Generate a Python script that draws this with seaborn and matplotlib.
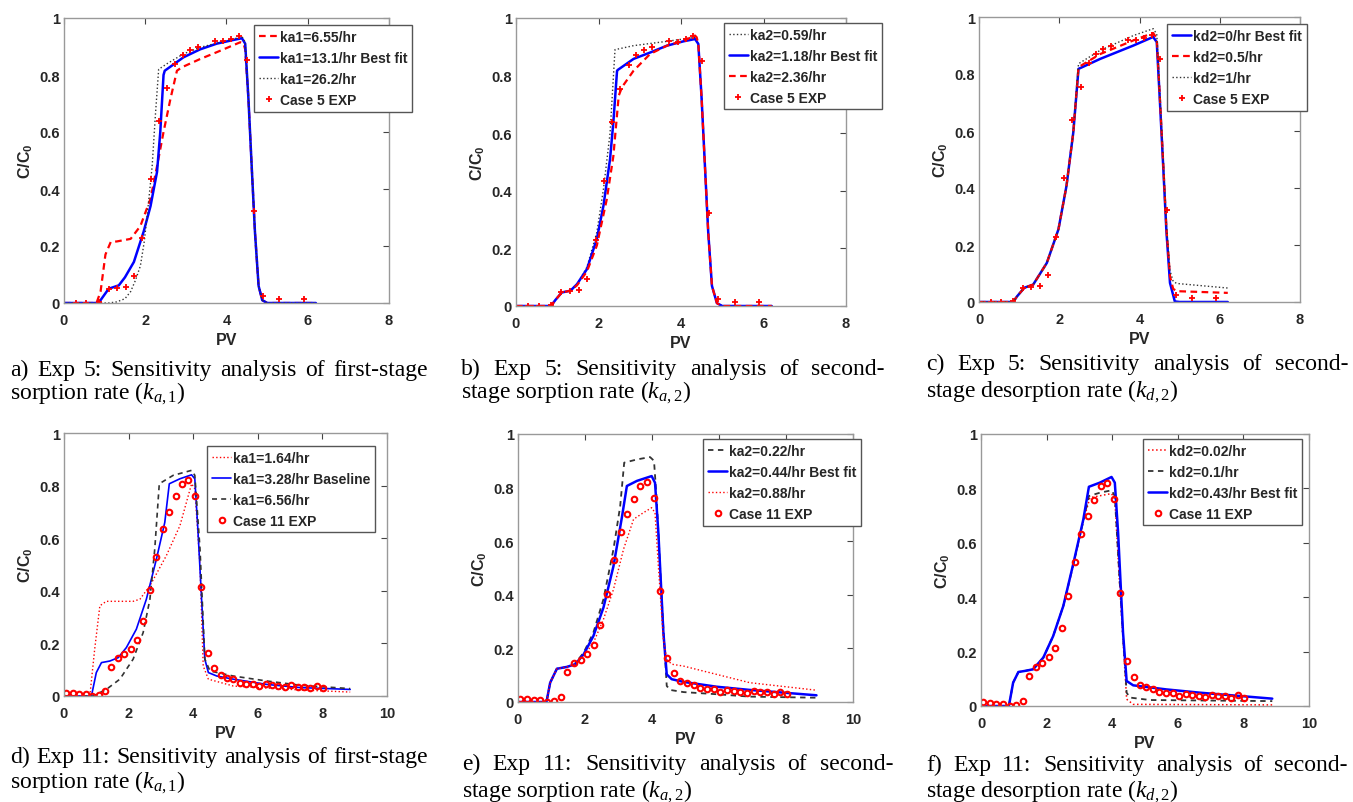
import matplotlib
matplotlib.use("Agg")
import matplotlib.pyplot as plt
import seaborn as sns

sns.set_style("white")
plt.rcParams["font.family"] = ["Liberation Sans", "DejaVu Sans"]
plt.rcParams["font.weight"] = "bold"
plt.rcParams["mathtext.fontset"] = "custom"
plt.rcParams["mathtext.it"] = "Liberation Serif:style=italic:weight=normal"
plt.rcParams["mathtext.rm"] = "Liberation Serif:weight=normal"
plt.rcParams["mathtext.bf"] = "Liberation Sans:bold"

W, H = 1353, 803

# ---------- experimental points ----------
exp5_x = [0.3, 0.55, 0.85, 1.1, 1.3, 1.52, 1.72, 1.93, 2.13, 2.33, 2.53, 2.73, 2.92, 3.1,
          3.3, 3.72, 3.92, 4.12, 4.3, 4.5, 4.68, 4.9, 5.3, 5.9]
exp5_y = [0, 0, 0.005, 0.05, 0.052, 0.055, 0.095, 0.228, 0.435, 0.638, 0.753, 0.837, 0.87, 0.888,
          0.9, 0.919, 0.918, 0.927, 0.937, 0.852, 0.322, 0.025, 0.013, 0.014]

exp11_x = [0.07, 0.27, 0.47, 0.67, 0.87, 1.07, 1.27, 1.47, 1.67, 1.87, 2.06, 2.26, 2.46, 2.66,
           2.86, 3.06, 3.26, 3.46, 3.65, 3.85, 4.05, 4.25, 4.45, 4.65, 4.85, 5.04, 5.24, 5.44,
           5.64, 5.84, 6.04, 6.24, 6.44, 6.64, 6.84, 7.03, 7.23, 7.43, 7.63, 7.83, 8.02]
exp11_y = [0.013, 0.011, 0.007, 0.007, 0.0, 0.004, 0.018, 0.112, 0.144, 0.158, 0.18, 0.214, 0.286,
           0.404, 0.53, 0.634, 0.70, 0.759, 0.807, 0.82, 0.762, 0.414, 0.164, 0.108, 0.079, 0.07,
           0.064, 0.051, 0.047, 0.047, 0.037, 0.045, 0.042, 0.038, 0.034, 0.041, 0.036, 0.036,
           0.029, 0.039, 0.029]

# ---------- panel a: ka1 (Exp 5) ----------
a_655_x = [0, 0.8, 0.9, 1.02, 1.15, 1.3, 1.64, 1.88, 2.13, 2.29, 2.45, 2.62, 2.78, 2.9, 3.35,
           3.76, 4.34, 4.42, 4.46, 4.54, 4.62, 4.7, 4.79, 4.88, 5.0, 6.2]
a_655_y = [0, 0, 0.04, 0.17, 0.214, 0.216, 0.225, 0.27, 0.366, 0.48, 0.6, 0.716, 0.815, 0.827,
           0.856, 0.88, 0.915, 0.91, 0.89, 0.716, 0.48, 0.25, 0.06, 0.01, 0, 0]
a_131_x = [0, 0.85, 0.95, 1.1, 1.35, 1.5, 1.72, 1.96, 2.13, 2.29, 2.37, 2.45, 2.48, 2.94, 3.35,
           3.76, 4.17, 4.38, 4.46, 4.54, 4.62, 4.7, 4.79, 4.88, 5.0, 6.2]
a_131_y = [0, 0, 0.02, 0.05, 0.062, 0.09, 0.144, 0.25, 0.34, 0.46, 0.6, 0.8, 0.815, 0.862, 0.89,
           0.91, 0.923, 0.929, 0.91, 0.716, 0.48, 0.25, 0.06, 0.01, 0, 0]
a_262_x = [0, 1.1, 1.3, 1.5, 1.64, 1.76, 1.88, 1.97, 2.05, 2.17, 2.25, 2.33, 2.54, 2.94, 3.35,
           4.17, 4.38, 4.46, 4.54, 4.62, 4.7, 4.79, 4.88, 5.0, 6.2]
a_262_y = [0, 0, 0.004, 0.015, 0.04, 0.08, 0.13, 0.21, 0.31, 0.48, 0.66, 0.82, 0.84, 0.874, 0.897,
           0.926, 0.935, 0.915, 0.72, 0.48, 0.25, 0.06, 0.01, 0, 0]

# ---------- panel b: ka2 (Exp 5) ----------
b_059_x = [0, 0.85, 0.95, 1.11, 1.32, 1.48, 1.72, 1.96, 2.12, 2.28, 2.4, 2.85, 3.66, 4.34, 4.42,
           4.5, 4.58, 4.66, 4.75, 4.87, 5.0, 6.2]
b_059_y = [0, 0, 0.02, 0.047, 0.053, 0.076, 0.135, 0.256, 0.406, 0.6, 0.89, 0.904, 0.919, 0.933,
           0.91, 0.72, 0.487, 0.256, 0.07, 0.01, 0, 0]
b_118_x = [0, 0.85, 0.95, 1.11, 1.32, 1.48, 1.72, 1.96, 2.12, 2.28, 2.36, 2.45, 2.47, 2.85, 3.25,
           3.66, 4.06, 4.34, 4.42, 4.5, 4.58, 4.66, 4.75, 4.87, 5.0, 6.2]
b_118_y = [0, 0, 0.02, 0.047, 0.053, 0.076, 0.128, 0.233, 0.348, 0.51, 0.638, 0.817, 0.82, 0.858,
           0.88, 0.904, 0.919, 0.927, 0.91, 0.72, 0.487, 0.256, 0.07, 0.01, 0, 0]
b_236_x = [0, 0.85, 0.95, 1.11, 1.32, 1.48, 1.72, 1.96, 2.2, 2.36, 2.49, 2.57, 2.85, 3.25, 3.66,
           4.06, 4.34, 4.38, 4.42, 4.5, 4.58, 4.66, 4.75, 4.87, 5.0, 6.2]
b_236_y = [0, 0, 0.02, 0.047, 0.053, 0.072, 0.12, 0.21, 0.37, 0.52, 0.73, 0.76, 0.817, 0.875,
           0.904, 0.921, 0.939, 0.933, 0.91, 0.72, 0.487, 0.256, 0.07, 0.01, 0, 0]

# ---------- panel c: kd2 (Exp 5) ----------
c_0_x = [0, 0.85, 0.95, 1.13, 1.35, 1.69, 1.98, 2.18, 2.35, 2.48, 3.02, 3.85, 4.34, 4.43, 4.51,
         4.59, 4.67, 4.76, 4.88, 5.0, 6.2]
c_0_y = [0, 0, 0.02, 0.05, 0.061, 0.137, 0.255, 0.407, 0.595, 0.818, 0.853, 0.9, 0.93, 0.912,
         0.7, 0.478, 0.25, 0.067, 0.002, 0, 0]
c_05_x = [0, 0.85, 0.95, 1.13, 1.35, 1.69, 1.98, 2.18, 2.35, 2.48, 3.02, 3.85, 4.34, 4.43, 4.51,
          4.59, 4.67, 4.76, 4.84, 4.93, 6.2]
c_05_y = [0, 0, 0.02, 0.05, 0.061, 0.137, 0.255, 0.407, 0.595, 0.824, 0.87, 0.918, 0.944, 0.925,
          0.71, 0.49, 0.26, 0.09, 0.046, 0.038, 0.032]
c_1_x = [0, 0.85, 0.95, 1.13, 1.35, 1.69, 1.98, 2.18, 2.35, 2.48, 3.02, 3.85, 4.34, 4.43, 4.51,
         4.59, 4.67, 4.76, 4.84, 4.93, 6.2]
c_1_y = [0, 0, 0.02, 0.05, 0.061, 0.137, 0.255, 0.407, 0.595, 0.836, 0.883, 0.935, 0.959, 0.94,
         0.72, 0.5, 0.27, 0.11, 0.072, 0.065, 0.049]

# ---------- panel d: ka1 (Exp 11) ----------
d_164_x = [0, 0.8, 0.95, 1.11, 1.31, 2.14, 2.35, 2.66, 3.17, 3.59, 3.95, 4.05, 4.21, 4.31, 4.47,
           5.24, 7.31, 8.86]
d_164_y = [0, 0, 0.178, 0.343, 0.36, 0.36, 0.368, 0.419, 0.534, 0.648, 0.807, 0.788, 0.496,
           0.114, 0.064, 0.038, 0.023, 0.015]
d_328_x = [0, 0.85, 1.0, 1.16, 1.42, 1.68, 1.93, 2.24, 2.55, 2.86, 3.12, 3.26, 3.59, 3.95, 4.05,
           4.15, 4.26, 4.36, 4.47, 4.73, 5.24, 6.28, 7.31, 8.86]
d_328_y = [0, 0, 0.089, 0.127, 0.133, 0.146, 0.184, 0.254, 0.368, 0.52, 0.66, 0.807, 0.826,
           0.841, 0.826, 0.623, 0.368, 0.14, 0.089, 0.076, 0.064, 0.044, 0.032, 0.025]
d_656_x = [0, 0.9, 1.31, 1.73, 2.14, 2.45, 2.66, 2.81, 2.95, 3.38, 3.95, 4.05, 4.21, 4.36, 4.52,
           5.24, 6.28, 7.31, 8.86]
d_656_y = [0, 0, 0.025, 0.064, 0.14, 0.241, 0.368, 0.559, 0.807, 0.839, 0.858, 0.839, 0.56,
           0.14, 0.095, 0.076, 0.057, 0.041, 0.028]

# ---------- panel e: ka2 (Exp 11) ----------
e_022_x = [0, 0.85, 0.96, 1.16, 1.46, 1.66, 1.96, 2.25, 2.55, 2.85, 3.05, 3.17, 3.55, 3.94, 4.06,
           4.14, 4.29, 4.44, 4.54, 4.94, 5.93, 6.92, 8.91]
e_022_y = [0, 0, 0.072, 0.124, 0.131, 0.137, 0.184, 0.259, 0.383, 0.57, 0.731, 0.893, 0.905,
           0.914, 0.9, 0.756, 0.383, 0.06, 0.045, 0.037, 0.029, 0.02, 0.016]
e_044_x = [0, 0.85, 0.96, 1.16, 1.46, 1.71, 1.96, 2.25, 2.55, 2.85, 3.1, 3.25, 3.55, 3.99, 4.09,
           4.19, 4.34, 4.44, 4.59, 4.94, 5.93, 6.92, 8.91]
e_044_y = [0, 0, 0.072, 0.124, 0.131, 0.141, 0.178, 0.246, 0.352, 0.507, 0.688, 0.806, 0.825,
           0.843, 0.818, 0.632, 0.259, 0.103, 0.085, 0.075, 0.057, 0.045, 0.025]
e_088_x = [0, 0.85, 0.96, 1.16, 1.46, 1.71, 1.96, 2.25, 2.55, 2.85, 3.15, 3.45, 3.74, 3.99, 4.09,
           4.19, 4.34, 4.44, 4.59, 4.94, 5.93, 6.92, 8.91]
e_088_y = [0, 0, 0.072, 0.124, 0.131, 0.141, 0.172, 0.221, 0.308, 0.42, 0.57, 0.682, 0.706,
           0.725, 0.706, 0.507, 0.234, 0.159, 0.141, 0.134, 0.103, 0.072, 0.044]

# ---------- panel f: kd2 (Exp 11) ----------
f_002_x = [0, 0.85, 0.98, 1.14, 1.34, 1.59, 1.9, 2.2, 2.51, 2.81, 3.12, 3.32, 3.98, 4.08, 4.23,
           4.44, 4.64, 8.88]
f_002_y = [0, 0, 0.086, 0.125, 0.129, 0.135, 0.178, 0.257, 0.368, 0.515, 0.68, 0.766, 0.781,
           0.76, 0.441, 0.025, 0.006, 0.004]
f_01_x = [0, 0.85, 0.98, 1.14, 1.34, 1.59, 1.9, 2.2, 2.51, 2.81, 3.12, 3.29, 3.62, 3.98, 4.08,
          4.23, 4.44, 4.54, 5.15, 8.88]
f_01_y = [0, 0, 0.086, 0.125, 0.129, 0.135, 0.178, 0.257, 0.368, 0.518, 0.68, 0.772, 0.784,
          0.793, 0.772, 0.453, 0.049, 0.031, 0.022, 0.018]
f_043_x = [0, 0.85, 0.98, 1.14, 1.34, 1.59, 1.9, 2.2, 2.51, 2.81, 3.12, 3.29, 3.62, 3.98, 4.08,
           4.18, 4.33, 4.44, 4.64, 5.65, 6.67, 8.88]
f_043_y = [0, 0, 0.086, 0.125, 0.129, 0.135, 0.178, 0.257, 0.368, 0.521, 0.686, 0.806, 0.821,
           0.842, 0.821, 0.637, 0.27, 0.092, 0.076, 0.061, 0.049, 0.027]

# ---------- captions ----------
cap_line1 = ["a) Exp 5: Sensitivity analysis of first-stage",
             "b) Exp 5: Sensitivity analysis of second-",
             "c) Exp 5: Sensitivity analysis of second-",
             "d) Exp 11: Sensitivity analysis of first-stage",
             "e) Exp 11: Sensitivity analysis of second-",
             "f) Exp 11: Sensitivity analysis of second-"]
cap_line2 = [r"sorption rate ($\mathit{k}_{\mathit{a,1}}$)",
             r"stage sorption rate ($\mathit{k}_{\mathit{a,2}}$)",
             r"stage desorption rate ($\mathit{k}_{\mathit{d,2}}$)",
             r"sorption rate ($\mathit{k}_{\mathit{a,1}}$)",
             r"stage sorption rate ($\mathit{k}_{\mathit{a,2}}$)",
             r"stage desorption rate ($\mathit{k}_{\mathit{d,2}}$)"]

RED, BLUE, BLACK = "#ff0000", "#0000ff", "#333333"

# axes boxes in pixels: left, right, top, bottom
boxes = [(64, 389, 19, 304), (516, 846, 19, 307), (979, 1300, 18, 303),
         (64, 387, 434, 697), (518, 853, 435, 703), (981, 1309, 435, 707)]
# legend upper-left anchors (axes fraction)
leg_anchor = [(0.585, 0.975), (0.63, 0.983), (0.586, 0.975),
              (0.443, 0.951), (0.552, 0.981), (0.494, 0.982)]
# caption: x0, x1, baseline1, baseline2 (pixels)
cap_pos = [(10, 428, 376, 399), (461, 885, 375, 398), (926, 1348, 370, 397),
           (10, 428, 763, 788), (462, 893, 770, 797), (926, 1348, 771, 797)]

fig = plt.figure(figsize=(W / 100, H / 100), dpi=100)
axes = []
for (l, r, t, b) in boxes:
    axes.append(fig.add_axes([l / W, 1 - b / H, (r - l) / W, (b - t) / H]))


def curve(ax, x, y, color, ls, lw, label):
    sns.lineplot(x=x, y=y, ax=ax, color=color, linestyle=ls, linewidth=lw,
                 estimator=None, sort=False, label=label)


def points5(ax):
    sns.lineplot(x=exp5_x, y=exp5_y, ax=ax, color=RED, linestyle="none", marker="+",
                 markersize=4, mew=1.3, mec=RED, estimator=None, sort=False,
                 label="Case 5 EXP")


def points11(ax):
    sns.lineplot(x=exp11_x, y=exp11_y, ax=ax, color=RED, linestyle="none", marker="o",
                 markersize=4, mew=1.5, mec=RED, mfc="none", estimator=None, sort=False,
                 label="Case 11 EXP")


ax = axes[0]
curve(ax, a_655_x, a_655_y, RED, (0, (3, 2)), 1.6, "ka1=6.55/hr")
curve(ax, a_131_x, a_131_y, BLUE, "-", 1.8, "ka1=13.1/hr Best fit")
curve(ax, a_262_x, a_262_y, BLACK, ":", 1.0, "ka1=26.2/hr")
points5(ax)

ax = axes[1]
curve(ax, b_059_x, b_059_y, BLACK, ":", 1.0, "ka2=0.59/hr")
curve(ax, b_118_x, b_118_y, BLUE, "-", 1.8, "ka2=1.18/hr Best fit")
curve(ax, b_236_x, b_236_y, RED, (0, (3, 2)), 1.6, "ka2=2.36/hr")
points5(ax)

ax = axes[2]
curve(ax, c_0_x, c_0_y, BLUE, "-", 1.8, "kd2=0/hr Best fit")
curve(ax, c_05_x, c_05_y, RED, (0, (3, 2)), 1.6, "kd2=0.5/hr")
curve(ax, c_1_x, c_1_y, BLACK, ":", 1.0, "kd2=1/hr")
points5(ax)

ax = axes[3]
curve(ax, d_164_x, d_164_y, RED, ":", 1.0, "ka1=1.64/hr")
curve(ax, d_328_x, d_328_y, BLUE, "-", 1.2, "ka1=3.28/hr Baseline")
curve(ax, d_656_x, d_656_y, BLACK, (0, (3, 2.5)), 1.2, "ka1=6.56/hr")
points11(ax)

ax = axes[4]
curve(ax, e_022_x, e_022_y, BLACK, (0, (3, 2.5)), 1.3, "ka2=0.22/hr")
curve(ax, e_044_x, e_044_y, BLUE, "-", 1.8, "ka2=0.44/hr Best fit")
curve(ax, e_088_x, e_088_y, RED, ":", 1.0, "ka2=0.88/hr")
points11(ax)

ax = axes[5]
curve(ax, f_002_x, f_002_y, RED, ":", 1.1, "kd2=0.02/hr")
curve(ax, f_01_x, f_01_y, BLACK, (0, (3, 2.5)), 1.3, "kd2=0.1/hr")
curve(ax, f_043_x, f_043_y, BLUE, "-", 1.8, "kd2=0.43/hr Best fit")
points11(ax)

for i, ax in enumerate(axes):
    xmax = 8 if i < 3 else 10
    ax.set_xlim(0, xmax)
    ax.set_ylim(0, 1)
    ax.set_xticks(range(0, xmax + 1, 2))
    ax.set_yticks([0, 0.2, 0.4, 0.6, 0.8, 1])
    ax.set_yticklabels(["0", "0.2", "0.4", "0.6", "0.8", "1"])
    ax.tick_params(direction="in", top=True, right=True, length=4, width=0.8,
                   color="#444444", labelsize=10.5, labelcolor="#262626")
    ax.tick_params(axis="x", pad=7)
    ax.tick_params(axis="y", pad=3)
    for sp in ax.spines.values():
        sp.set_color("#999999")
        sp.set_linewidth(1.0)
    ax.set_xlabel("PV", fontsize=11.5, fontweight="bold", color="#262626", labelpad=4)
    ax.set_ylabel(r"C/C$_\mathbf{0}$", fontsize=11.5, fontweight="bold", color="#262626",
                  labelpad=3)
    leg = ax.legend(loc="upper left", bbox_to_anchor=leg_anchor[i], numpoints=1,
                    prop={"weight": "bold", "size": 10}, frameon=True, fancybox=False,
                    framealpha=1, edgecolor="#555555", borderpad=0.35, labelspacing=0.5,
                    handlelength=1.4, handletextpad=0.1, borderaxespad=0)
    leg.get_frame().set_linewidth(1.0)

# captions, first line justified to the column width
renderer = fig.canvas.get_renderer()
cap_kw = dict(fontsize=17, family="Liberation Serif", fontweight="normal", color="black",
              va="baseline")
for i, (x0, x1, y1, y2) in enumerate(cap_pos):
    words = cap_line1[i].split(" ")
    widths = []
    for w in words:
        t = fig.text(0, 0, w, **cap_kw)
        widths.append(t.get_window_extent(renderer).width)
        t.remove()
    gap = (x1 - x0 - sum(widths)) / (len(words) - 1)
    x = x0
    for w, wd in zip(words, widths):
        fig.text(x / W, 1 - y1 / H, w, **cap_kw)
        x += wd + gap
    fig.text(x0 / W, 1 - y2 / H, cap_line2[i], **cap_kw)

fig.savefig("out.png", dpi=100)
